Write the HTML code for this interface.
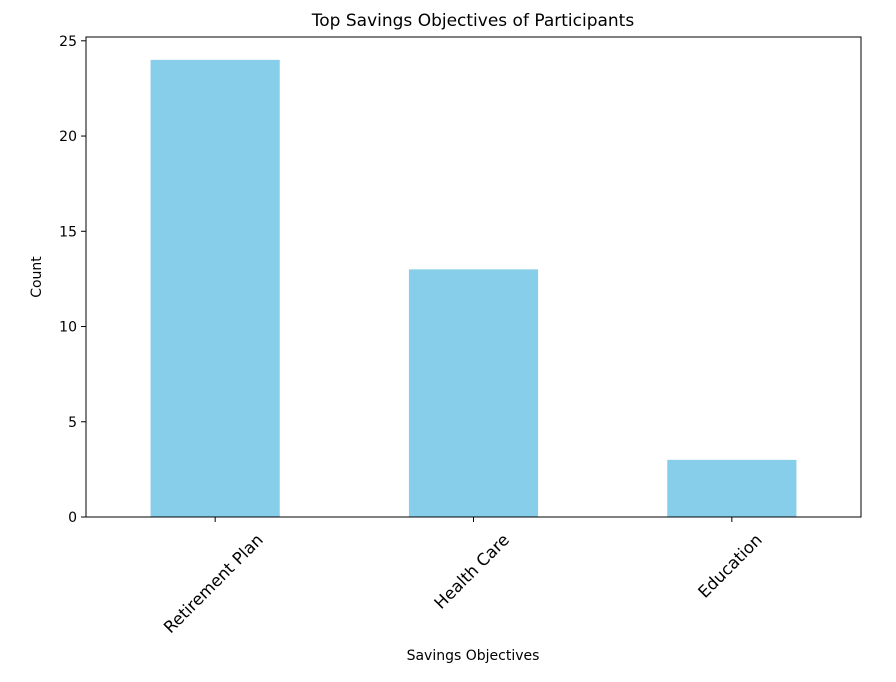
<!DOCTYPE html>
<html><head><meta charset="utf-8"><style>
body{margin:0;background:#fff;font-family:"Liberation Sans","DejaVu Sans",sans-serif;}
svg text{font-family:"DejaVu Sans","Liberation Sans",sans-serif;fill:#000;}
</style></head><body>
<svg id="chart" width="896" height="677">
<text x="473" y="26" font-size="17" text-anchor="middle">Top Savings Objectives of Participants</text>
<g id="bars"></g>
<g id="yticks"></g>
<g id="xticks"></g>
<rect x="86" y="37" width="775" height="480" fill="none" stroke="#000" stroke-width="1"/>
<text x="473" y="660" font-size="14" text-anchor="middle">Savings Objectives</text>
<text transform="translate(41,277) rotate(-90)" font-size="14" text-anchor="middle">Count</text>
</svg>
<script>
const categories=["Retirement Plan","Health Care","Education"];
const counts=[24,13,3];
const yTicks=[0,5,10,15,20,25];
const ns="http://www.w3.org/2000/svg";
const L=86,R=861,T=37,B=517,yMax=25.2;
const band=(R-L)/categories.length;
function x(i){return L+band*(i+0.5);}
function y(v){return B-(v/yMax)*(B-T);}
function mk(t,a){const e=document.createElementNS(ns,t);for(const k in a)e.setAttribute(k,a[k]);return e;}
const bars=document.getElementById('bars'),yt=document.getElementById('yticks'),xt=document.getElementById('xticks');
counts.forEach((v,i)=>{
 const r=mk('rect',{x:x(i)-band*0.25,y:y(v),width:band*0.5,height:B-y(v),fill:'#87ceeb'});
 
 
 bars.appendChild(r);
 const l=mk('line',{x1:x(i),x2:x(i),y1:B,y2:B+5,stroke:'#000'});
 
 
 xt.appendChild(l);
 const t=mk('text',{'font-size':16.5,'text-anchor':'middle','dominant-baseline':'middle'});
 t.textContent=categories[i];
 
 
 xt.appendChild(t);
 const w=t.getComputedTextLength();
 const half=(w+16)*0.7071/2;
 t.setAttribute('transform',`translate(${x(i)-1},${B+15+half}) rotate(-45)`);
});
yTicks.forEach(v=>{
 const l=mk('line',{x1:L-5,x2:L,y1:y(v),y2:y(v),stroke:'#000'});
 
 
 yt.appendChild(l);
 const t=mk('text',{x:L-9,y:y(v)+5,'font-size':14,'text-anchor':'end'});
 t.textContent=v;
 
 
 yt.appendChild(t);
});
</script>
</body></html>
